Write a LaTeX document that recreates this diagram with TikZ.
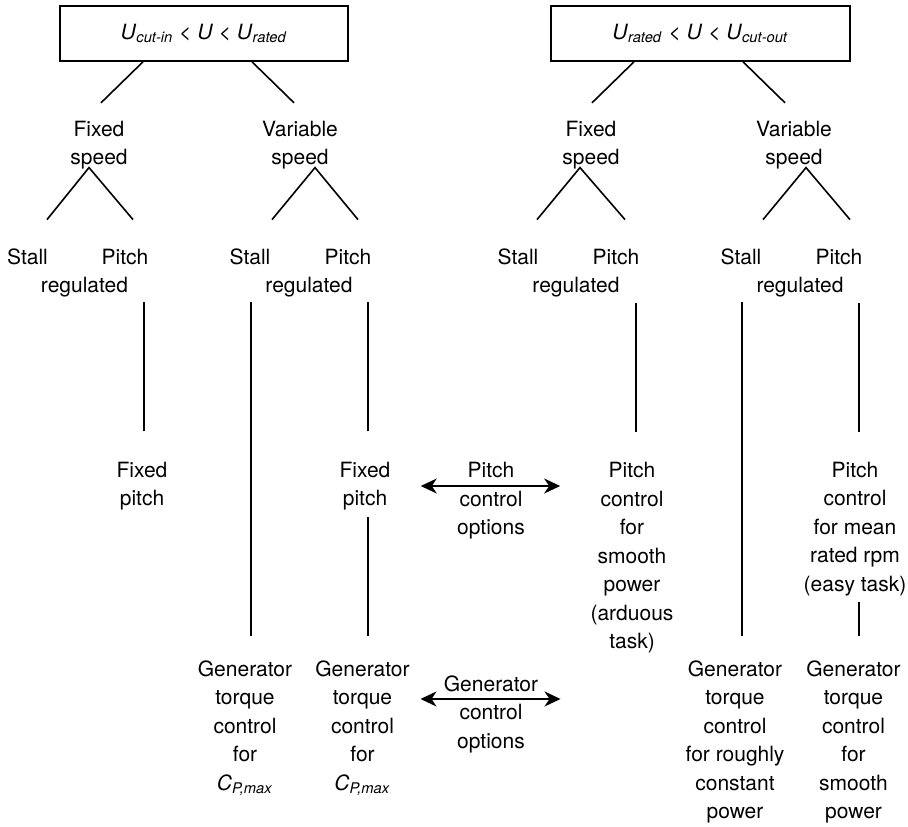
\documentclass[tikz,border=0pt]{standalone}
\usepackage{fontspec}
\usepackage{tikz}
\setmainfont{TeX Gyre Heros}
\usetikzlibrary{arrows.meta,calc}
\newcommand\Usub[1]{\textit{U}\textsubscript{\textit{#1}}}
\newcommand\Cpmax{\textit{C}\textsubscript{\textit{P,max}}}

\begin{document}
\begin{tikzpicture}[x=0.5pt,y=-0.5pt,
  box/.style={rectangle,draw,line width=0.8pt,
    minimum height=27.5pt,inner sep=0pt,
    font=\fontsize{10.5}{14.25}\selectfont},
  lbl/.style={align=center,inner sep=0pt,
    font=\fontsize{10.5}{14.25}\selectfont},
  branch/.style={line width=0.8pt},
  arr/.style={<->,line width=0.9pt,
    >={Stealth[length=8pt,width=7.5pt,inset=2.5pt]}}]

  \useasboundingbox (0,0) rectangle (908,826);

  % wind speed ranges
  \node[box,minimum width=144pt] (low) at (204,33.5) {\Usub{cut-in} < \textit{U} < \Usub{rated}};
  \node[box,minimum width=149.5pt] (high) at (700.5,33.5) {\Usub{rated} < \textit{U} < \Usub{cut-out}};

  \node[lbl] (fix1) at (99,145) {Fixed\\speed};
  \node[lbl] (var1) at (300,145) {Variable\\speed};
  \node[lbl] (fix2) at (591,145) {Fixed\\speed};
  \node[lbl] (var2) at (794,145) {Variable\\speed};

  \foreach \n/\s/\p/\r in {1/27.5/125/84.5,2/250/348/309,3/518/616/576,4/741/839/800} {
    \node[lbl] (stall\n) at (\s,257) {Stall};
    \node[lbl] (pitch\n) at (\p,257) {Pitch};
    \node[lbl] (reg\n) at (\r,287) {regulated};
  }

  % control strategies
  \node[lbl] (fp1) at (142,486) {Fixed\\pitch};
  \node[lbl] (fp2) at (365,486) {Fixed\\pitch};
  \node[lbl] (pco) at (491,501) {Pitch\\control\\options};
  \node[lbl] (pcs) at (632,558) {Pitch\\control\\for\\smooth\\power\\(arduous\\task)};
  \node[lbl] (pcm) at (855,529) {Pitch\\control\\for mean\\rated rpm\\(easy task)};

  \node[lbl] (gt1) at (245,728) {Generator\\torque\\control\\for\\\Cpmax};
  \node[lbl] (gt2) at (362.5,728) {Generator\\torque\\control\\for\\\Cpmax};
  \node[lbl] (gco) at (491,714) {Generator\\control\\options};
  \node[lbl] (gt3) at (735,742) {Generator\\torque\\control\\for roughly\\constant\\power};
  \node[lbl] (gt4) at (853.5,742) {Generator\\torque\\control\\for\\smooth\\power};

  % branches
  \draw[branch] ($(low.south)+(-61,0)$) -- ++(-42,41);
  \draw[branch] ($(low.south)+(48,0)$) -- ++(42,41);
  \draw[branch] ($(high.south)+(-66.5,0)$) -- ++(-42,41);
  \draw[branch] ($(high.south)+(42.5,0)$) -- ++(42,41);

  \draw[branch] ($(fix1.south)+(-52,50)$) -- ++(42,-52) -- ++(44,52);
  \draw[branch] ($(var1.south)+(-28,50)$) -- ++(43,-52) -- ++(43,52);
  \draw[branch] ($(fix2.south)+(-54,50)$) -- ++(43,-52) -- ++(45,52);
  \draw[branch] ($(var2.south)+(-31,50)$) -- ++(43,-52) -- ++(44,52);

  \draw[branch] ($(fp1.north)+(2,-30)$) -- ++(0,-129);
  \draw[branch] ($(gt1.north)+(6,-24)$) -- ++(0,-334);
  \draw[branch] ($(fp2.north)+(3,-30)$) -- ++(0,-129);
  \draw[branch] ($(fp2.south)+(3,6)$) -- ($(gt2.north)+(5.5,-24)$);
  \draw[branch] ($(pcs.north)+(4,-30)$) -- ++(0,-129);
  \draw[branch] ($(gt3.north)+(7,-24)$) -- ++(0,-334);
  \draw[branch] ($(pcm.north)+(4,-30)$) -- ++(0,-129);
  \draw[branch] ($(pcm.south)+(4,6)$) -- ($(gt4.north)+(5.5,-24)$);

  % options
  \draw[arr,shorten <=15pt,shorten >=15pt] (fp2.east) -- (fp2.east -| pcs.west);
  \draw[arr] ($(gco.north west)+(-23,24)$) -- ($(gco.north east)+(22,24)$);
\end{tikzpicture}
\end{document}
